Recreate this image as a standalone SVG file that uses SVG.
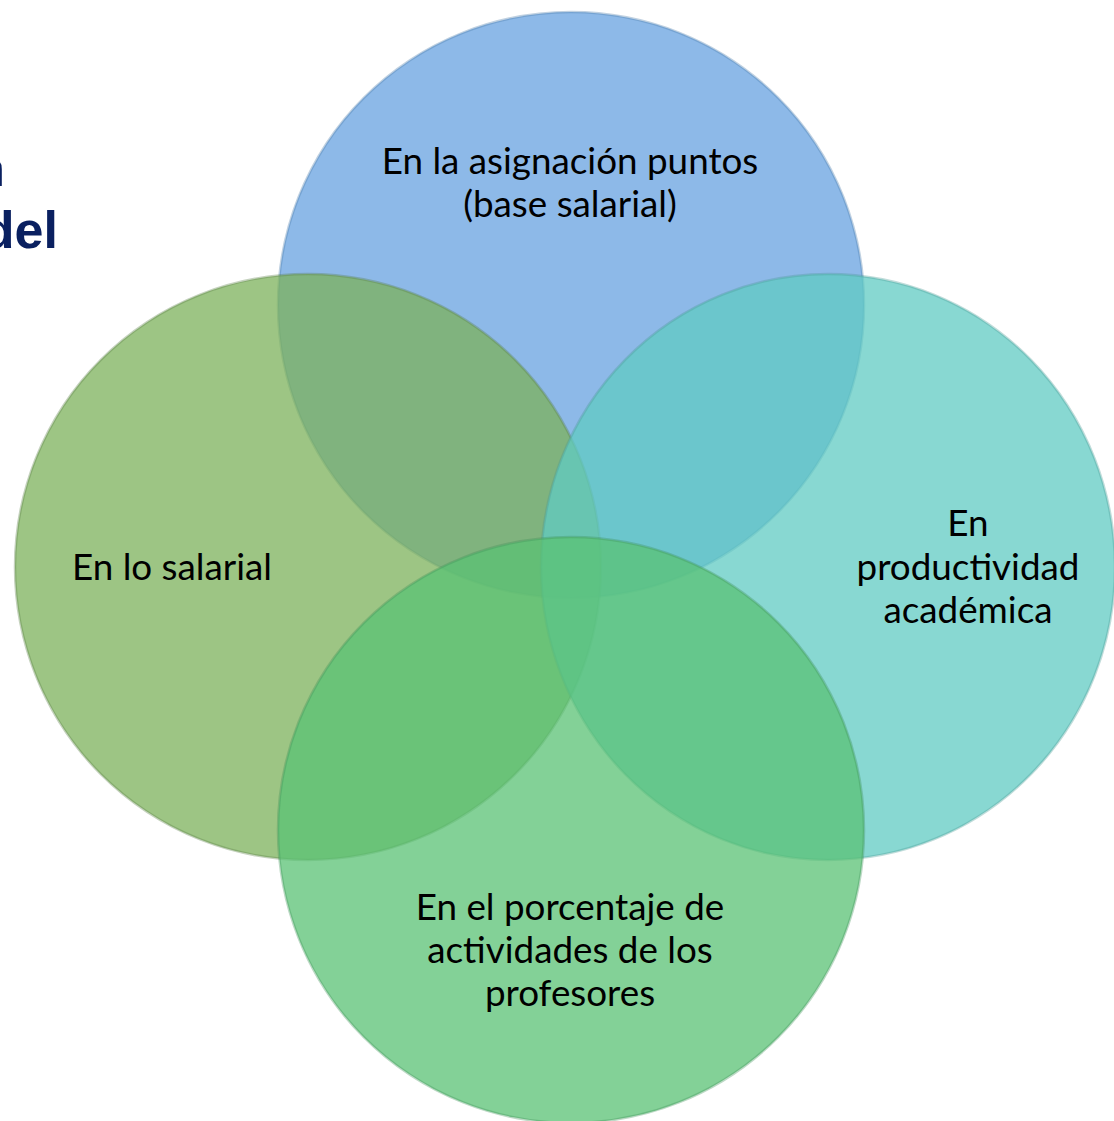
<svg xmlns="http://www.w3.org/2000/svg" width="1114" height="1121" viewBox="0 0 1114 1121">
  <style>
    .bubble { fill-opacity: 0.75; stroke-width: 2.5; stroke-opacity: 0.35; }
    .lbl { font-family: Lato, "Liberation Sans", sans-serif; font-size: 36.8px; fill: #000; text-anchor: middle; }
    .title { font-family: "Liberation Sans", Arial, sans-serif; font-weight: bold; font-size: 52px; fill: #0a2060; text-anchor: end; }
  </style>
  <rect width="1114" height="1121" fill="#ffffff"/>
  <text class="title" x="5" y="186">n</text>
  <text class="title" x="58" y="248">del</text>
  <g id="node-top">
    <circle class="bubble" cx="571" cy="305" r="293" fill="#67a2e0" stroke="#4a7aa8"/>
    <text class="lbl" x="570" y="174">En la asignación puntos</text>
    <text class="lbl" x="570" y="217">(base salarial)</text>
  </g>
  <g id="node-left">
    <circle class="bubble" cx="308" cy="567" r="293" fill="#7cb25b" stroke="#5a7f45"/>
    <text class="lbl" x="172" y="580">En lo salarial</text>
  </g>
  <g id="node-right">
    <ellipse class="bubble" cx="828" cy="567" rx="287" ry="293" fill="#60cbc3" stroke="#4a9a94"/>
    <text class="lbl" x="968" y="536">En</text>
    <text class="lbl" x="968" y="580">productividad</text>
    <text class="lbl" x="968" y="623">académica</text>
  </g>
  <g id="node-bottom">
    <circle class="bubble" cx="571" cy="830" r="293" fill="#5ac274" stroke="#3f9358"/>
    <text class="lbl" x="570" y="920">En el porcentaje de</text>
    <text class="lbl" x="570" y="963">actividades de los</text>
    <text class="lbl" x="570" y="1006">profesores</text>
  </g>
  <g id="connectors"/>
</svg>
